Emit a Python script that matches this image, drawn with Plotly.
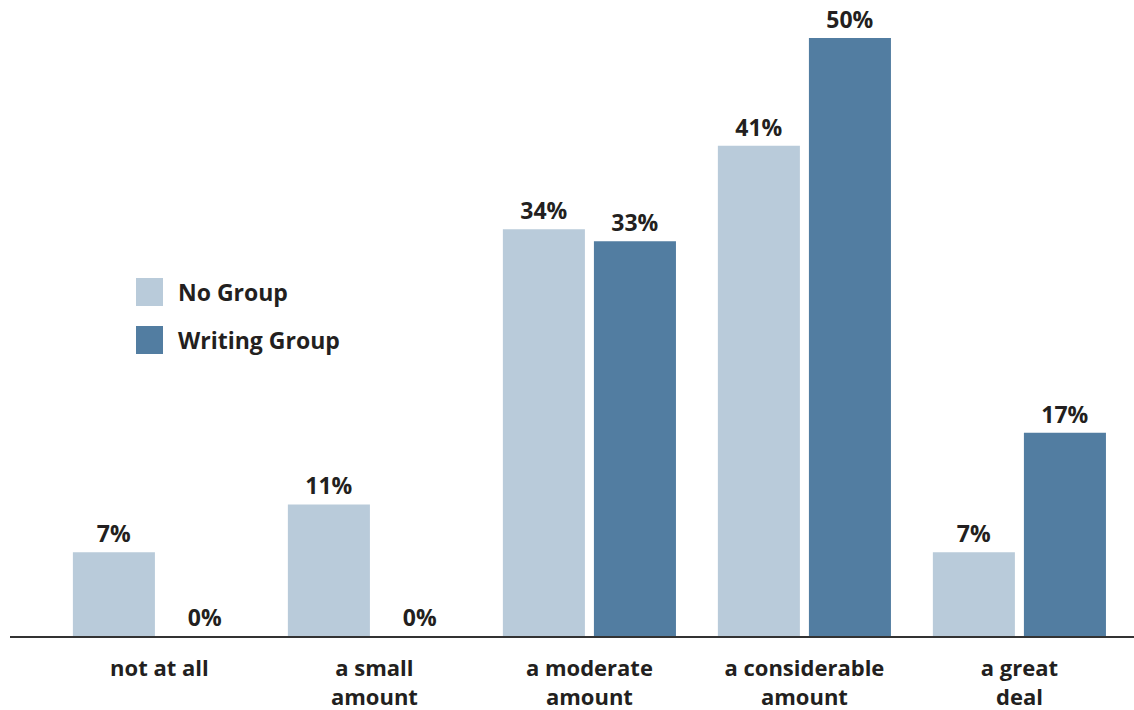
import plotly.graph_objects as go

categories = ["not at all", "a small<br>amount", "a moderate<br>amount",
              "a considerable<br>amount", "a great<br>deal"]
no_group = [7, 11, 34, 41, 7]
writing_group = [0, 0, 33, 50, 17]
series_names = ["No Group", "Writing Group"]

LIGHT = "#B9CBDA"
DARK = "#527DA1"
INK = "#231F20"
FONT = "Open Sans"

fig = go.Figure()
for name, vals, color in [(series_names[0], no_group, LIGHT),
                          (series_names[1], writing_group, DARK)]:
    fig.add_trace(go.Bar(
        x=list(range(len(categories))),
        y=vals,
        name=name,
        marker=dict(color=color, line=dict(width=0)),
        text=[f"{v}%" for v in vals],
        textposition="outside",
        outsidetextfont=dict(family=FONT, size=23, color=INK, weight="bold"),
        cliponaxis=False,
        showlegend=False,
    ))

# legend: large square swatches with bold labels
for i, (name, color) in enumerate(zip(series_names, [LIGHT, DARK])):
    y0 = 278 + i * 48
    fig.add_shape(type="rect", xref="paper", yref="paper",
                  x0=(136 - 10) / 1124, x1=(163 - 10) / 1124,
                  y0=(636 - (y0 + 28)) / 598, y1=(636 - y0) / 598,
                  fillcolor=color, line=dict(width=0))
    fig.add_annotation(xref="paper", yref="paper",
                       x=(176 - 10) / 1124, y=(636 - (y0 + 14)) / 598,
                       xanchor="left", yanchor="middle", showarrow=False,
                       text=name,
                       font=dict(family=FONT, size=23, color=INK, weight="bold"))

fig.update_layout(
    width=1134, height=710,
    margin=dict(l=10, r=0, t=38, b=74),
    paper_bgcolor="white", plot_bgcolor="white",
    barmode="group", bargap=0.153, bargroupgap=0.099,
    font=dict(family=FONT, color=INK),
    xaxis=dict(
        tickmode="array", tickvals=list(range(len(categories))),
        ticktext=categories,
        range=[-0.695, 4.533],
        automargin=False,
        showline=True, linecolor="#333333", linewidth=1.5,
        showgrid=False, zeroline=False, ticks="",
        ticklabelstandoff=12,
        tickfont=dict(family=FONT, size=22, color=INK, weight="bold"),
    ),
    yaxis=dict(range=[0, 50], visible=False, showgrid=False, zeroline=False,
               automargin=False),
)

fig.write_html("out.html")
